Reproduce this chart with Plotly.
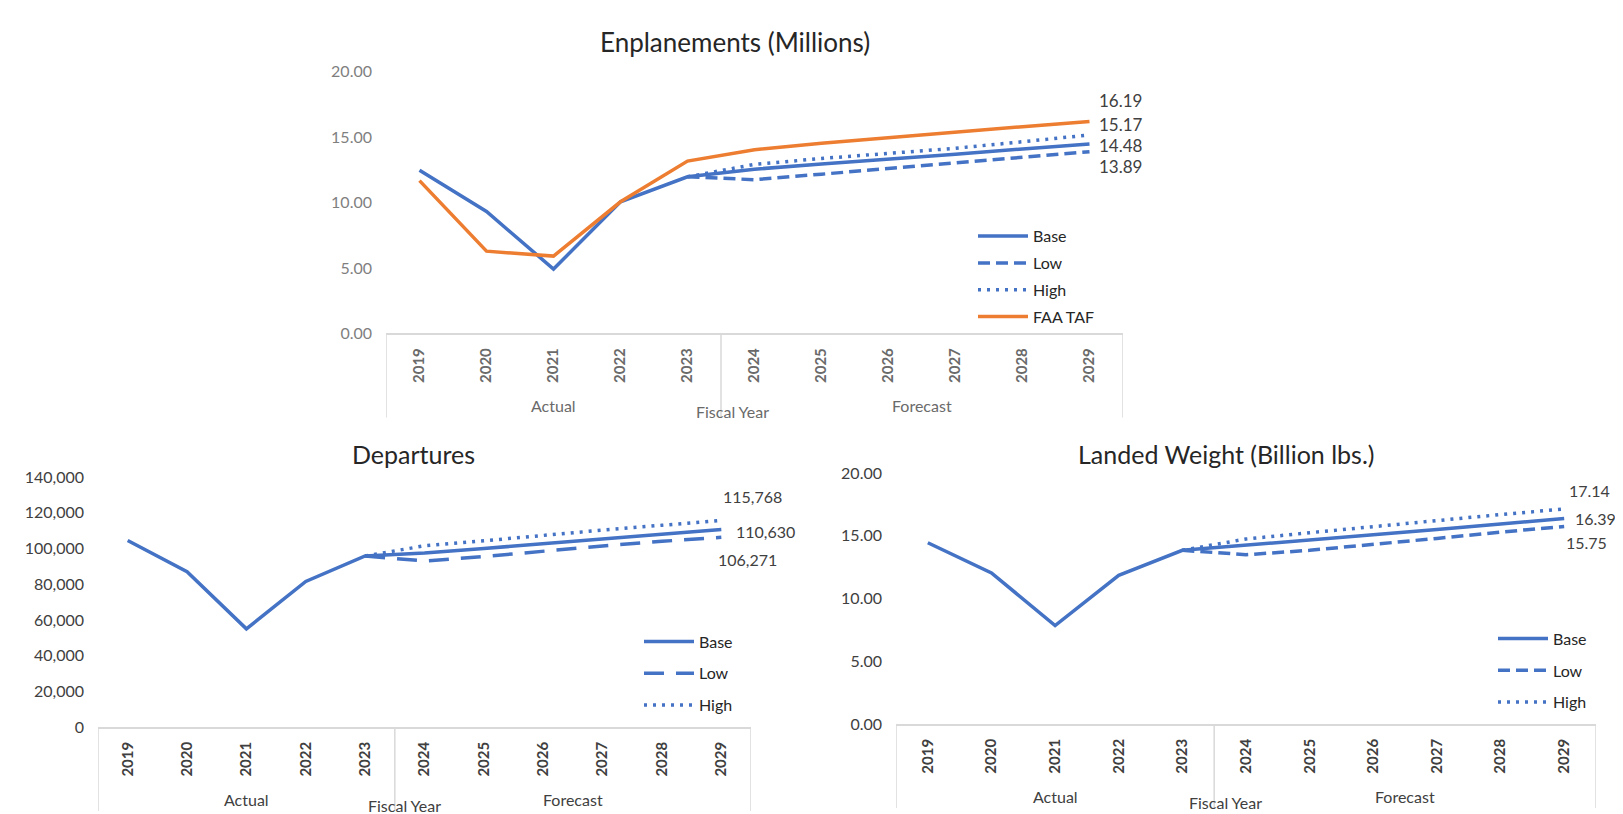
import plotly.graph_objects as go

# ---------------- data ----------------
years = [2019, 2020, 2021, 2022, 2023, 2024, 2025, 2026, 2027, 2028, 2029]
year_labels = [str(y) for y in years]

enp_base = [12.47, 9.32, 4.92, 10.06, 11.97, 12.55, 12.95, 13.30, 13.70, 14.10, 14.48]
enp_low = [None, None, None, None, 11.97, 11.75, 12.17, 12.60, 13.00, 13.42, 13.89]
enp_high = [None, None, None, None, 11.97, 12.92, 13.37, 13.75, 14.15, 14.65, 15.17]
enp_taf = [11.68, 6.29, 5.91, 10.06, 13.17, 14.04, 14.53, 14.96, 15.40, 15.80, 16.19]

dep_base = [104500, 87000, 55000, 81500, 95800, 97500, 100000, 102700, 105400, 108000, 110630]
dep_low = [None, None, None, None, 95800, 93000, 95500, 98600, 101400, 104000, 106271]
dep_high = [None, None, None, None, 95800, 101500, 104300, 107400, 110300, 113000, 115768]

lw_base = [14.45, 12.05, 7.85, 11.85, 13.85, 14.25, 14.65, 15.05, 15.50, 15.95, 16.39]
lw_low = [None, None, None, None, 13.85, 13.50, 13.85, 14.30, 14.80, 15.30, 15.75]
lw_high = [None, None, None, None, 13.85, 14.75, 15.25, 15.75, 16.20, 16.70, 17.14]

titles = ["Enplanements (Millions)", "Departures", "Landed Weight (Billion lbs.)"]
group_labels = ["Actual", "Forecast"]
axis_title = "Fiscal Year"

# ---------------- styles ----------------
FONT = "Lato, 'Open Sans', sans-serif"
BLUE = "#4472C4"
ORANGE = "#ED7D31"
LW = 3.5
W, H = 1623, 814


def py(px):
    return 1 - px / H


def pxx(px):
    return px / W


fig = go.Figure()

# panel geometry (pixels)
panels = [
    dict(xa="x", ya="y", x0=378, x1=1115, ybot=323, ytop=55, rng=[0, 20], dtick=5,
         fmt=".2f", tickcol="#7f7f7f", yearcol="#6a6a6a", legend="legend",
         dash_low="12px,6px", dash_high="3px,6px"),
    dict(xa="x2", ya="y2", x0=90, x1=743, ybot=726, ytop=470, rng=[0, 140000], dtick=20000,
         fmt=",d", tickcol="#404040", yearcol="#404040", legend="legend2",
         dash_low="20px,12px", dash_high="3px,6px"),
    dict(xa="x3", ya="y3", x0=888, x1=1588, ybot=723, ytop=466, rng=[0, 20], dtick=5,
         fmt=".2f", tickcol="#404040", yearcol="#404040", legend="legend3",
         dash_low="12px,6px", dash_high="3px,6px"),
]

series = [
    [("Base", enp_base, BLUE, None), ("Low", enp_low, BLUE, "low"),
     ("High", enp_high, BLUE, "high"), ("FAA TAF", enp_taf, ORANGE, None)],
    [("Base", dep_base, BLUE, None), ("Low", dep_low, BLUE, "low"),
     ("High", dep_high, BLUE, "high")],
    [("Base", lw_base, BLUE, None), ("Low", lw_low, BLUE, "low"),
     ("High", lw_high, BLUE, "high")],
]

for i, (p, ser) in enumerate(zip(panels, series)):
    for name, vals, col, kind in ser:
        dash = "solid"
        if kind == "low":
            dash = p["dash_low"]
        elif kind == "high":
            dash = p["dash_high"]
        fig.add_trace(go.Scatter(
            x=years, y=vals, name=name, mode="lines",
            line=dict(color=col, width=LW, dash=dash),
            xaxis=p["xa"], yaxis=p["ya"], legend=p["legend"],
            legendgroup=f"{p['legend']}_{name}", connectgaps=False,
            hoverinfo="skip"))

layout_axes = {}
for i, p in enumerate(panels):
    sfx = "" if i == 0 else str(i + 1)
    layout_axes["xaxis" + sfx] = dict(
        domain=[pxx(p["x0"]), pxx(p["x1"])], anchor=p["ya"],
        range=[2018.5, 2029.5], tickvals=years, ticktext=year_labels,
        tickangle=-90, showgrid=False, zeroline=False, showline=True,
        linecolor="#d9d9d9", linewidth=1.5, ticks="", ticklabelstandoff=7,
        tickfont=dict(family=FONT, size=15, color=p["yearcol"], weight="bold"),
        fixedrange=True)
    layout_axes["yaxis" + sfx] = dict(
        domain=[py(p["ybot"]), py(p["ytop"])], anchor=p["xa"],
        range=p["rng"], dtick=p["dtick"],
        tickformat=p["fmt"], showgrid=False, zeroline=False, showline=False,
        ticks="", ticklabelstandoff=13,
        tickfont=dict(family=FONT, size=16, color=p["tickcol"]),
        fixedrange=True)

shapes = []
annotations = []
for i, p in enumerate(panels):
    # category group separators (edges + Actual/Forecast divider)
    for xv in [2018.5, 2023.5, 2029.5]:
        shapes.append(dict(type="line", xref=p["xa"], yref="paper",
                           x0=xv, x1=xv, y0=py(p["ybot"]), y1=py(p["ybot"] + 86),
                           line=dict(color="#d9d9d9", width=1.5)))
    # group labels
    grp_y = py(p["ybot"] + 74)
    for lbl, xv in zip(group_labels, [sum(years[:5]) / 5, sum(years[5:]) / 6]):
        annotations.append(dict(text=lbl, x=xv, y=grp_y, xref=p["xa"], yref="paper",
                                showarrow=False, xanchor="center", yanchor="middle",
                                font=dict(family=FONT, size=16, color=p["yearcol"])))
    annotations.append(dict(text=axis_title, x=pxx(p["x0"] + 0.47 * (p["x1"] - p["x0"])),
                            y=py(p["ybot"] + 80), xref="paper", yref="paper",
                            showarrow=False, xanchor="center", yanchor="middle",
                            font=dict(family=FONT, size=16, color=p["yearcol"])))

# titles
title_pos = [(727, 25, 26), (405, 446, 25), (1218, 446, 25)]
for t, (tx, ty, fs) in zip(titles, title_pos):
    annotations.append(dict(text=t, x=pxx(tx), y=py(ty), xref="paper", yref="paper",
                            showarrow=False, xanchor="center", yanchor="middle",
                            font=dict(family=FONT, size=fs, color="#262626")))

# end-of-line value labels
end_labels = [
    ("x", "y", enp_taf[-1], "{:.2f}", 7, 21, "left", 17),
    ("x", "y", enp_high[-1], "{:.2f}", 7, 10, "left", 17),
    ("x", "y", enp_base[-1], "{:.2f}", 7, -2, "left", 17),
    ("x", "y", enp_low[-1], "{:.2f}", 7, -15, "left", 17),
    ("x2", "y2", dep_high[-1], "{:,}", 31, 24, "center", 16),
    ("x2", "y2", dep_base[-1], "{:,}", 44, -2, "center", 16),
    ("x2", "y2", dep_low[-1], "{:,}", 26, -22, "center", 16),
    ("x3", "y3", lw_high[-1], "{:.2f}", 25, 19, "center", 16),
    ("x3", "y3", lw_base[-1], "{:.2f}", 31, 0, "center", 16),
    ("x3", "y3", lw_low[-1], "{:.2f}", 22, -16, "center", 16),
]
for xa, ya, v, fmt, xs, ys, anc, fs in end_labels:
    annotations.append(dict(text=fmt.format(v), x=years[-1], y=v, xref=xa, yref=ya,
                            showarrow=False, xanchor=anc, yanchor="middle",
                            xshift=xs, yshift=ys,
                            font=dict(family=FONT, size=fs, color="#404040")))

legend_common = dict(bgcolor="rgba(0,0,0,0)", borderwidth=0,
                     font=dict(family=FONT, size=16, color="#262626"),
                     xanchor="left", yanchor="top", traceorder="grouped",
                     itemwidth=50)

fig.update_layout(
    width=W, height=H, margin=dict(l=0, r=0, t=0, b=0),
    paper_bgcolor="white", plot_bgcolor="white", showlegend=True,
    legend=dict(x=pxx(1027 - 62), y=py(206), tracegroupgap=3, **legend_common),
    legend2=dict(x=pxx(693 - 62), y=py(621), tracegroupgap=8, **legend_common),
    legend3=dict(x=pxx(1547 - 62), y=py(618), tracegroupgap=8, **legend_common),
    shapes=shapes, annotations=annotations,
    **layout_axes)

fig.write_html("out.html")
